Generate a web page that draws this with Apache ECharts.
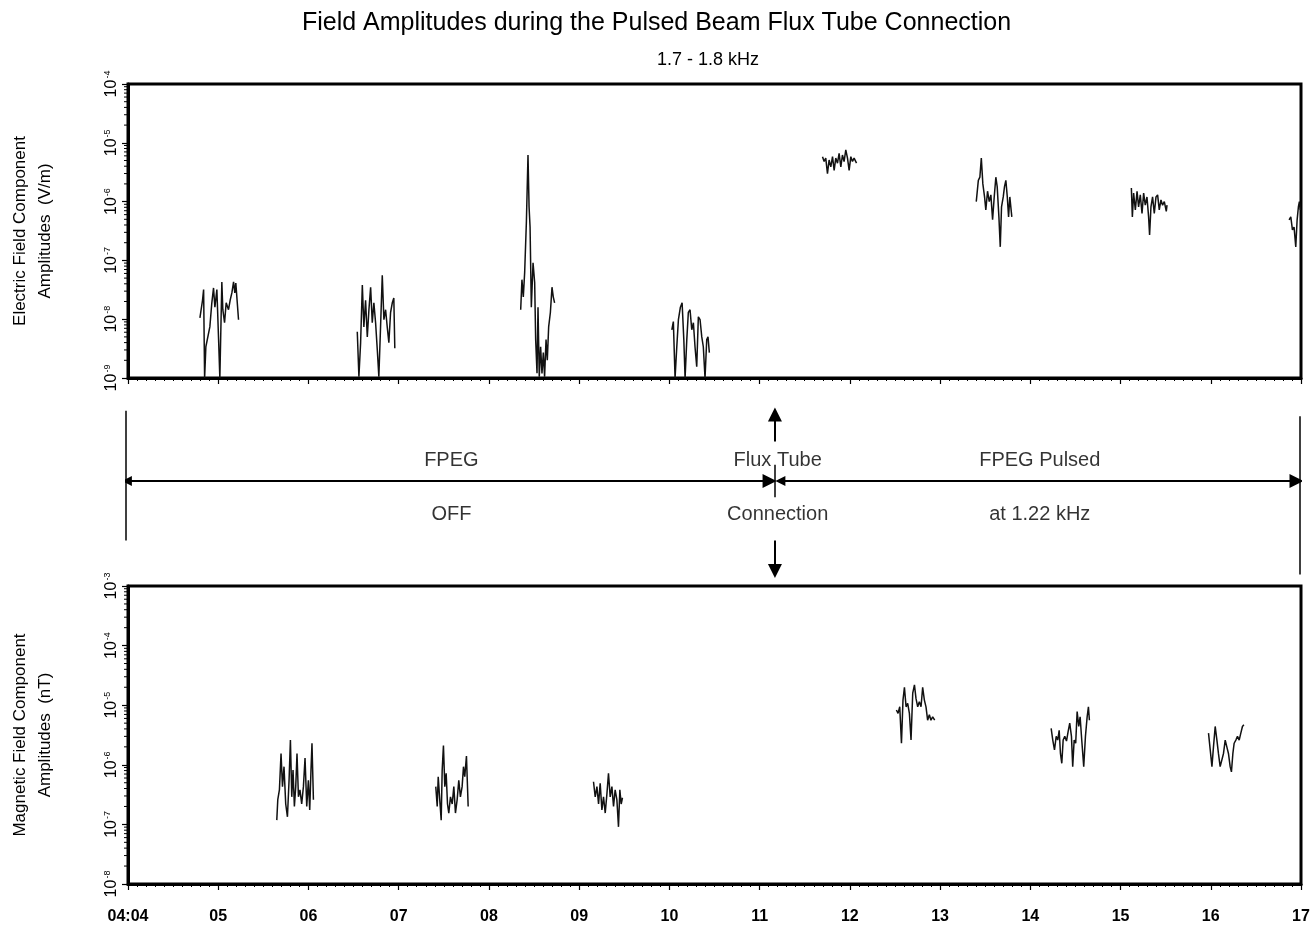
<!DOCTYPE html>
<html><head><meta charset="utf-8">
<script src="https://cdn.jsdelivr.net/npm/echarts@6/dist/echarts.min.js"></script>
<style>html,body{margin:0;padding:0;background:#fff}#c{width:1313px;height:932px}</style>
</head><body><div id="c"></div><script>
// ---------- categories / tick labels ----------
const xMinutes = [4,5,6,7,8,9,10,11,12,13,14,15,16,17];
const xTickLabels = ['04:04','05','06','07','08','09','10','11','12','13','14','15','16','17'];

// ---------- Electric field bursts [minute, V/m] ----------
const eBurst1 = [[4.797,1.05e-8],[4.826,2.1e-8],[4.838,3.2e-8],[4.849,1.0e-9],[4.863,3.4e-9],[4.885,3.4e-9],[4.907,7.4e-9],[4.929,1.9e-8],[4.948,3.4e-8],[4.963,1.6e-8],[4.985,3.2e-8],[5.004,4.5e-9],[5.018,1.0e-9],[5.040,4.3e-8],[5.051,1.45e-8],[5.070,8.7e-9],[5.088,1.9e-8],[5.114,1.45e-8],[5.132,2.1e-8],[5.151,2.8e-8],[5.170,4.3e-8],[5.184,2.8e-8],[5.195,4.1e-8],[5.225,9.8e-9]];
const eBurst2 = [[6.541,6.1e-9],[6.559,1.05e-9],[6.578,4.0e-9],[6.597,3.8e-8],[6.614,7.4e-9],[6.633,2.1e-8],[6.652,5.0e-9],[6.670,1.45e-8],[6.689,3.5e-8],[6.707,8.7e-9],[6.725,1.9e-8],[6.744,8.7e-9],[6.763,3.0e-9],[6.780,1.05e-9],[6.799,7.4e-9],[6.818,5.6e-8],[6.836,9.8e-9],[6.855,1.45e-8],[6.873,7.4e-9],[6.891,4.0e-9],[6.910,1.3e-8],[6.929,1.9e-8],[6.946,2.3e-8],[6.957,3.2e-9]];
const eBurst3 = [[8.352,1.45e-8],[8.366,4.7e-8],[8.381,2.4e-8],[8.396,6.2e-8],[8.415,4.4e-7],[8.433,6.2e-6],[8.445,8.1e-7],[8.456,3.7e-7],[8.470,1.6e-8],[8.489,9.1e-8],[8.507,4.2e-8],[8.518,4.5e-9],[8.533,1.2e-9],[8.544,1.6e-8],[8.558,1.05e-9],[8.573,3.4e-9],[8.588,1.2e-9],[8.603,2.7e-9],[8.617,1.05e-9],[8.633,4.5e-9],[8.647,2.0e-9],[8.662,7.4e-9],[8.681,1.3e-8],[8.699,3.5e-8],[8.713,2.4e-8],[8.728,1.9e-8]];
const eBurst4 = [[10.027,6.6e-9],[10.044,9.1e-9],[10.063,1.0e-9],[10.082,3.4e-9],[10.100,9.8e-9],[10.122,1.6e-8],[10.141,1.9e-8],[10.160,4.5e-9],[10.174,1.0e-9],[10.193,4.5e-9],[10.210,1.3e-8],[10.229,1.45e-8],[10.248,6.6e-9],[10.266,8.7e-9],[10.284,3.4e-9],[10.303,1.55e-9],[10.321,1.1e-8],[10.340,9.8e-9],[10.359,5.0e-9],[10.376,3.4e-9],[10.395,1.0e-9],[10.414,4.5e-9],[10.428,5.0e-9],[10.443,2.7e-9]];
const eBurst5 = [[11.697,5.8e-6],[11.715,4.8e-6],[11.733,5.5e-6],[11.752,3.0e-6],[11.770,5.1e-6],[11.789,3.9e-6],[11.808,5.8e-6],[11.826,3.4e-6],[11.844,5.5e-6],[11.863,4.5e-6],[11.881,6.6e-6],[11.900,3.9e-6],[11.918,6.2e-6],[11.936,4.8e-6],[11.955,7.6e-6],[11.974,5.5e-6],[11.992,3.4e-6],[12.011,5.8e-6],[12.029,4.8e-6],[12.047,5.5e-6],[12.074,4.5e-6]];
const eBurst6 = [[13.401,1.0e-6],[13.424,2.3e-6],[13.441,2.6e-6],[13.457,5.5e-6],[13.474,2.0e-6],[13.493,1.2e-6],[13.507,7.2e-7],[13.526,1.5e-6],[13.545,1.0e-6],[13.563,1.3e-6],[13.582,4.9e-7],[13.600,1.2e-6],[13.618,2.6e-6],[13.633,1.8e-6],[13.652,5.5e-7],[13.667,1.7e-7],[13.681,8.1e-7],[13.700,1.2e-6],[13.714,1.8e-6],[13.729,2.3e-6],[13.745,1.2e-6],[13.759,5.5e-7],[13.773,1.2e-6],[13.795,5.5e-7]];
const eBurst7 = [[15.120,1.7e-6],[15.131,5.5e-7],[15.145,1.4e-6],[15.164,7.2e-7],[15.183,1.5e-6],[15.200,8.1e-7],[15.219,1.3e-6],[15.238,6.3e-7],[15.256,1.4e-6],[15.274,8.7e-7],[15.293,1.2e-6],[15.311,5.5e-7],[15.322,2.7e-7],[15.337,8.1e-7],[15.355,1.2e-6],[15.374,6.3e-7],[15.393,1.2e-6],[15.411,1.3e-6],[15.429,7.2e-7],[15.448,1.07e-6],[15.466,8.7e-7],[15.485,1.0e-6],[15.507,6.8e-7],[15.515,8.7e-7]];
const eBurst8 = [[16.868,4.9e-7],[16.887,5.5e-7],[16.905,3.3e-7],[16.923,3.7e-7],[16.942,1.7e-7],[16.957,4.9e-7],[16.971,8.1e-7],[16.982,1.0e-6],[16.993,7.2e-7]];

// ---------- Magnetic field bursts [minute, nT] ----------
const bBurst1 = [[5.649,1.18e-7],[5.660,2.6e-7],[5.678,3.8e-7],[5.696,1.55e-6],[5.712,4.3e-7],[5.729,9.3e-7],[5.748,2.2e-7],[5.767,1.34e-7],[5.785,5.5e-7],[5.800,2.6e-6],[5.815,2.9e-7],[5.829,8.2e-7],[5.844,2.0e-7],[5.859,4.3e-7],[5.873,1.55e-6],[5.889,2.9e-7],[5.906,3.8e-7],[5.925,2.2e-7],[5.944,4.3e-7],[5.962,1.3e-6],[5.981,2.0e-7],[5.999,5.5e-7],[6.014,1.75e-7],[6.028,8.2e-7],[6.039,2.3e-6],[6.055,2.6e-7]];
const bBurst2 = [[7.411,4.3e-7],[7.427,2.0e-7],[7.438,6.3e-7],[7.455,2.6e-7],[7.471,1.18e-7],[7.482,8.2e-7],[7.496,2.1e-6],[7.511,4.3e-7],[7.526,7.2e-7],[7.541,2.2e-7],[7.555,1.55e-7],[7.574,2.9e-7],[7.593,2.2e-7],[7.611,4.3e-7],[7.629,1.55e-7],[7.648,2.6e-7],[7.666,5.5e-7],[7.684,2.9e-7],[7.703,4.3e-7],[7.718,9.3e-7],[7.732,6.3e-7],[7.751,1.4e-6],[7.770,2.0e-7]];
const bBurst3 = [[9.159,5.2e-7],[9.178,2.9e-7],[9.197,4.3e-7],[9.215,2.2e-7],[9.233,4.9e-7],[9.252,1.75e-7],[9.270,2.9e-7],[9.289,1.55e-7],[9.308,3.3e-7],[9.325,7.2e-7],[9.344,2.9e-7],[9.363,4.3e-7],[9.381,2.0e-7],[9.399,3.8e-7],[9.418,2.6e-7],[9.436,9.1e-8],[9.451,3.8e-7],[9.466,2.2e-7],[9.480,2.8e-7]];
const bBurst4 = [[12.516,8.3e-6],[12.534,7.3e-6],[12.553,9.4e-6],[12.572,2.3e-6],[12.589,1.22e-5],[12.605,2.0e-5],[12.623,9.4e-6],[12.641,1.07e-5],[12.660,7.3e-6],[12.678,2.6e-6],[12.697,1.6e-5],[12.716,2.2e-5],[12.733,1.3e-5],[12.752,9.4e-6],[12.770,1.14e-5],[12.789,9.4e-6],[12.807,2.0e-5],[12.826,1.22e-5],[12.844,9.4e-6],[12.862,5.6e-6],[12.881,6.9e-6],[12.899,5.6e-6],[12.918,6.4e-6],[12.940,5.6e-6]];
const bBurst5 = [[14.231,4.1e-6],[14.249,2.6e-6],[14.268,1.78e-6],[14.287,3.0e-6],[14.304,2.6e-6],[14.320,3.8e-6],[14.334,1.55e-6],[14.349,1.06e-6],[14.364,2.6e-6],[14.382,3.0e-6],[14.401,2.5e-6],[14.419,3.6e-6],[14.437,5.0e-6],[14.456,3.0e-6],[14.470,9.3e-7],[14.486,2.6e-6],[14.503,2.3e-6],[14.519,7.8e-6],[14.537,4.4e-6],[14.552,6.4e-6],[14.570,2.6e-6],[14.592,9.3e-7],[14.611,3.0e-6],[14.630,6.4e-6],[14.644,9.4e-6],[14.655,5.6e-6]];
const bBurst6 = [[15.975,3.4e-6],[15.994,1.78e-6],[16.013,9.3e-7],[16.030,2.0e-6],[16.049,4.4e-6],[16.068,2.6e-6],[16.085,1.55e-6],[16.104,9.3e-7],[16.123,8.7e-7],[16.141,1.55e-6],[16.160,2.6e-6],[16.178,2.0e-6],[16.196,1.55e-6],[16.215,9.3e-7],[16.229,7.6e-7],[16.245,1.55e-6],[16.259,2.3e-6],[16.278,2.6e-6],[16.296,3.0e-6],[16.315,2.6e-6],[16.333,3.4e-6],[16.351,4.4e-6],[16.367,4.7e-6]];

// ---------- annotation (phase) data ----------
const phaseTimes = [4, 11.18, 17];          // FPEG off start, flux tube connection, end
const phaseTopTexts = ['FPEG', 'Flux Tube', 'FPEG Pulsed'];
const phaseBottomTexts = ['OFF', 'Connection', 'at 1.22 kHz'];
const phaseTextTimes = [7.6, 11.21, 14.11];

const eBursts = [eBurst1,eBurst2,eBurst3,eBurst4,eBurst5,eBurst6,eBurst7,eBurst8];
const bBursts = [bBurst1,bBurst2,bBurst3,bBurst4,bBurst5,bBurst6];

const FONT = '"Liberation Sans", Arial, Helvetica, sans-serif';
const INK = '#111';

function minorLogTicks(lo, hi) {
  const out = [];
  for (let k = lo; k < hi; k++) for (let m = 2; m <= 9; m++) out.push([4, m * Math.pow(10, k)]);
  return out;
}
function logLabel(v) {
  const e = Math.round(Math.log10(v));
  return '{b|10}{s|' + e + '}';
}
const logRich = {
  b: { fontSize: 16, fontFamily: FONT, color: '#000' },
  s: { fontSize: 9, fontFamily: FONT, color: '#000', verticalAlign: 'top', padding: [0, 0, 9, 1] }
};

function burstSeries(arr, idx) {
  return arr.map(d => ({
    type: 'line', xAxisIndex: idx, yAxisIndex: idx, data: d, showSymbol: false, symbol: 'none',
    lineStyle: { color: INK, width: 1.5 }, silent: true, animation: false, z: 3
  }));
}
function minorTickSeries(idx, lo, hi) {
  return {
    type: 'custom', xAxisIndex: idx, yAxisIndex: idx, data: minorLogTicks(lo, hi), silent: true, animation: false,
    renderItem: function (params, api) {
      const p = api.coord([api.value(0), api.value(1)]);
      return { type: 'line', shape: { x1: p[0] - 4, y1: p[1], x2: p[0] - 1, y2: p[1] }, style: { stroke: '#000', lineWidth: 1 } };
    }
  };
}

const chart = echarts.init(document.getElementById('c'), null, { renderer: 'canvas' });

const xBase = (gi, showLabels) => ({
  type: 'value', gridIndex: gi, min: 4, max: 17, interval: 1,
  axisLine: { show: true, onZero: false, lineStyle: { color: '#000', width: 3 } },
  axisTick: { show: true, length: 6, lineStyle: { color: '#000', width: 1.2 } },
  minorTick: { show: true, splitNumber: 10, length: 3, lineStyle: { color: '#000', width: 1 } },
  splitLine: { show: false },
  axisLabel: {
    show: showLabels, margin: 25, fontSize: 16, fontWeight: 'bold',
    fontFamily: '"Liberation Sans Narrow", "Liberation Sans", Arial, sans-serif', color: '#000',
    showMinLabel: true, showMaxLabel: true,
    formatter: v => xTickLabels[xMinutes.indexOf(Math.round(v))]
  }
});
const yLog = (gi, min, max, name) => ({
  type: 'log', logBase: 10, gridIndex: gi, min: min, max: max, splitNumber: 5,
  axisLine: { show: true, lineStyle: { color: '#000', width: 3 } },
  axisTick: { show: true, length: 6, lineStyle: { color: '#000', width: 1.2 } },
  splitLine: { show: false },
  axisLabel: { rotate: 90, margin: 7, formatter: logLabel, rich: logRich },
  name: name, nameLocation: 'middle', nameRotate: 90, nameGap: 70,
  nameTextStyle: { fontSize: 17, fontFamily: FONT, color: '#000', lineHeight: 25 }
});

const midLine = 55;
const option = {
  backgroundColor: '#fff',
  animation: false,
  title: [
    { text: 'Field Amplitudes during the Pulsed Beam Flux Tube Connection', left: 'center', top: 6,
      textStyle: { fontSize: 25, fontWeight: 'normal', fontFamily: FONT, color: '#000' } },
    { text: '1.7 - 1.8 kHz', left: 652, top: 46,
      textStyle: { fontSize: 18, fontWeight: 'normal', fontFamily: FONT, color: '#000' } }
  ],
  grid: [
    { left: 126, right: 12, top: 84, height: 294, show: true, borderColor: '#000', borderWidth: 3, backgroundColor: 'transparent' },
    { left: 126, right: 12, top: 586, height: 298, show: true, borderColor: '#000', borderWidth: 3, backgroundColor: 'transparent' },
    { left: 126, right: 12, top: 400, height: 180, show: false }
  ],
  xAxis: [
    xBase(0, false),
    xBase(1, true),
    { type: 'value', gridIndex: 2, min: 4, max: 17, show: false }
  ],
  yAxis: [
    yLog(0, 1e-9, 1e-4, 'Electric Field Component\nAmplitudes  (V/m)'),
    yLog(1, 1e-8, 1e-3, 'Magnetic Field Component\nAmplitudes  (nT)'),
    { type: 'value', gridIndex: 2, min: 0, max: 100, show: false }
  ],
  series: [
    ...burstSeries(eBursts, 0),
    ...burstSeries(bBursts, 1),
    minorTickSeries(0, -9, -4),
    minorTickSeries(1, -8, -3),
    { // double arrows
      type: 'lines', coordinateSystem: 'cartesian2d', xAxisIndex: 2, yAxisIndex: 2, silent: true, animation: false,
      symbol: ['triangle', 'triangle'], symbolSize: [10, 14],
      lineStyle: { color: '#000', width: 2, opacity: 1, curveness: 0 },
      data: [
        { coords: [[phaseTimes[0] + 0.01, midLine], [phaseTimes[1] - 0.06, midLine]] },
        { coords: [[phaseTimes[1] + 0.06, midLine], [phaseTimes[2] - 0.05, midLine]] }
      ]
    },
    { // single arrows at the connection
      type: 'lines', coordinateSystem: 'cartesian2d', xAxisIndex: 2, yAxisIndex: 2, silent: true, animation: false,
      symbol: ['none', 'triangle'], symbolSize: [10, 14],
      lineStyle: { color: '#000', width: 2, opacity: 1 },
      data: [
        { coords: [[phaseTimes[1], 77], [phaseTimes[1], 92]] },
        { coords: [[phaseTimes[1], 22], [phaseTimes[1], 5]] }
      ]
    },
    { // plain vertical lines
      type: 'lines', coordinateSystem: 'cartesian2d', xAxisIndex: 2, yAxisIndex: 2, silent: true, animation: false,
      symbol: ['none', 'none'],
      lineStyle: { color: '#000', width: 1.5, opacity: 1 },
      data: [
        { coords: [[phaseTimes[0], 94], [phaseTimes[0], 22]] },
        { coords: [[phaseTimes[2] - 0.01, 91], [phaseTimes[2] - 0.01, 3]] },
        { coords: [[phaseTimes[1], 64], [phaseTimes[1], 46]] }
      ]
    },
    { // annotation texts
      type: 'scatter', xAxisIndex: 2, yAxisIndex: 2, symbolSize: 0, silent: true, animation: false,
      label: { show: true, position: 'inside', formatter: '{b}', fontSize: 20, fontFamily: FONT, color: '#000' },
      data: phaseTopTexts.map((t, i) => ({ name: t, value: [phaseTextTimes[i], 66.5] }))
        .concat(phaseBottomTexts.map((t, i) => ({ name: t, value: [phaseTextTimes[i], 36.5] })))
    }
  ]
};
chart.setOption(option);
</script></body></html>
